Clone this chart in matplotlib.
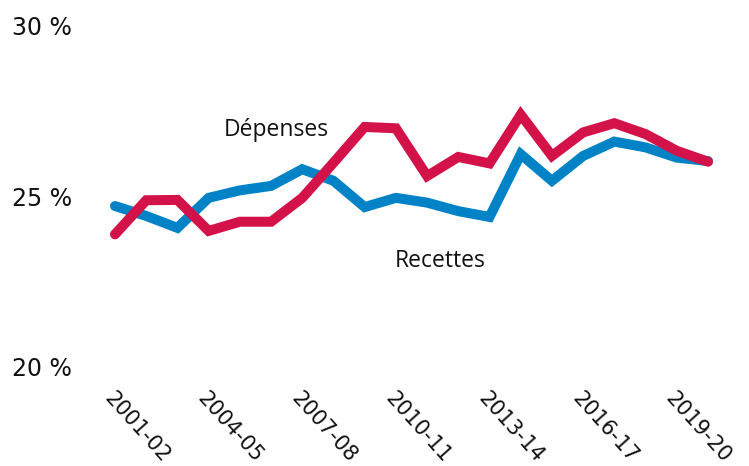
import numpy as np
import matplotlib
matplotlib.use("Agg")
from matplotlib import pyplot as plt

years = ["2001-02", "2002-03", "2003-04", "2004-05", "2005-06", "2006-07",
         "2007-08", "2008-09", "2009-10", "2010-11", "2011-12", "2012-13",
         "2013-14", "2014-15", "2015-16", "2016-17", "2017-18", "2018-19",
         "2019-20", "2020-21"]
recettes = [24.72, 24.43, 24.08, 24.96, 25.18, 25.31, 25.80, 25.46, 24.69, 24.96,
            24.82, 24.57, 24.40, 26.24, 25.46, 26.19, 26.61, 26.44, 26.14, 26.04]
depenses = [23.89, 24.89, 24.90, 23.99, 24.26, 24.26, 24.96, 25.99, 27.04, 27.00,
            25.60, 26.16, 25.97, 27.40, 26.19, 26.88, 27.15, 26.83, 26.34, 26.02]
y_ticks = [20, 25, 30]

blue = "#0082c6"
red = "#d4124a"

fig = plt.figure(figsize=(7.49, 4.66), dpi=100)
ax = fig.add_axes([115 / 749, 99 / 466, 593 / 749, 341 / 466])

x = np.arange(len(years))
ax.plot(x, recettes, color=blue, lw=7.2, solid_capstyle="round",
        solid_joinstyle="miter", clip_on=False)
ax.plot(x, depenses, color=red, lw=7.2, solid_capstyle="round",
        solid_joinstyle="miter", clip_on=False)

ax.set_xlim(0, len(years) - 1)
ax.set_ylim(20, 30)
for s in ax.spines.values():
    s.set_visible(False)
ax.tick_params(length=0)

ax.set_yticks(y_ticks)
ax.set_yticklabels([])
for v in y_ticks:
    ax.annotate(f"{v} %", xy=(0, v), xycoords=("figure fraction", "data"),
                xytext=(12, -2), textcoords="offset pixels",
                ha="left", va="center", fontsize=17, color="#111111")

ax.set_xticks(x[::3])
ax.set_xticklabels(years[::3], rotation=-48, ha="left", va="top",
                   rotation_mode="anchor", fontsize=15, color="#111111")
ax.tick_params(axis="x", pad=15)

ax.text(5.16, 26.95, "Dépenses", fontsize=16.5, ha="center", va="center",
        family="Open Sans", color="#111111")
ax.text(10.42, 23.12, "Recettes", fontsize=16.5, ha="center", va="center",
        family="Open Sans", color="#111111")

fig.savefig("out.png", dpi=100)
